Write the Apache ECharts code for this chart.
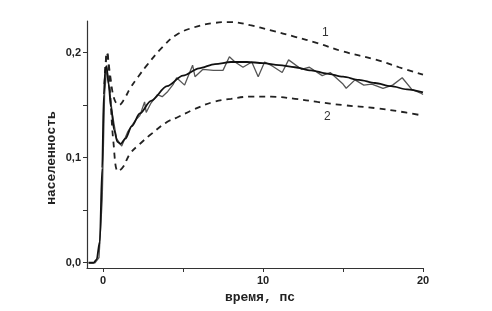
<!DOCTYPE html>
<html>
<head>
<meta charset="utf-8">
<script src="https://cdn.jsdelivr.net/npm/echarts@6/dist/echarts.min.js"></script>
<style>html,body{margin:0;padding:0;background:#fff}#c{width:492px;height:311px}</style>
</head>
<body>
<div id="c"></div>
<script>
var xTicks = [0, 5, 10, 15, 20];
var xLabels = [0, 10, 20];
var yTicks = [0, 0.05, 0.1, 0.15, 0.2];
var yLabels = [0, 0.1, 0.2];
var xTitle = 'время, пс';
var yTitle = 'населенность';

var fitT = [-0.9, -0.6, -0.4, -0.2, -0.05, 0.05, 0.15, 0.22, 0.35, 0.5, 0.7, 0.9, 1.1, 1.4, 1.8, 2.3, 3, 4, 5, 6, 7, 8, 9, 10, 11, 12, 13, 14, 15, 16, 17, 18, 19, 20];
var fitY = [0, 0, 0.003, 0.02, 0.09, 0.16, 0.185, 0.187, 0.17, 0.148, 0.126, 0.115, 0.113, 0.118, 0.13, 0.142, 0.154, 0.168, 0.178, 0.185, 0.189, 0.191, 0.191, 0.190, 0.188, 0.186, 0.183, 0.180, 0.177, 0.174, 0.171, 0.168, 0.165, 0.162];

var noisyT = [-0.9, -0.5, -0.25, -0.05, 0.1, 0.23, 0.4, 0.6, 0.85, 1.17, 1.56, 2.0, 2.3, 2.6, 2.7, 3.0, 3.4, 3.7, 4.05, 4.4, 4.6, 5.1, 5.6, 5.75, 6.25, 6.9, 7.5, 7.9, 8.25, 8.75, 9.3, 9.7, 10.1, 10.6, 11.2, 11.6, 12.4, 12.9, 13.7, 14.2, 15.0, 15.2, 15.75, 16.3, 16.8, 17.5, 18.1, 18.7, 19.3, 19.9, 20];
var noisyY = [0, 0, 0.005, 0.06, 0.16, 0.186, 0.165, 0.14, 0.118, 0.111, 0.125, 0.135, 0.14, 0.153, 0.143, 0.152, 0.160, 0.158, 0.163, 0.170, 0.176, 0.169, 0.188, 0.177, 0.184, 0.183, 0.183, 0.196, 0.191, 0.186, 0.191, 0.177, 0.191, 0.187, 0.181, 0.193, 0.184, 0.186, 0.178, 0.181, 0.170, 0.166, 0.174, 0.169, 0.170, 0.166, 0.169, 0.176, 0.165, 0.161, 0.160];

var up1T = [0.1, 0.25, 0.45, 0.7, 1.0, 1.3, 1.7, 2.2, 2.75, 3.7, 4.6, 5.7, 6.9, 8, 9.2, 10.5, 12, 13.4, 15, 17.1, 18.5, 20];
var up1Y = [0.17, 0.2, 0.178, 0.156, 0.15, 0.155, 0.166, 0.177, 0.188, 0.205, 0.217, 0.224, 0.228, 0.229, 0.226, 0.221, 0.215, 0.209, 0.201, 0.193, 0.186, 0.179];

var low2T = [0.1, 0.25, 0.45, 0.65, 0.94, 1.25, 1.7, 2.3, 2.9, 4.0, 4.6, 5.7, 6.9, 8, 9.2, 10.5, 12, 13.4, 15, 17.1, 18.5, 20];
var low2Y = [0.17, 0.2, 0.16, 0.115, 0.087, 0.091, 0.104, 0.113, 0.121, 0.134, 0.138, 0.146, 0.153, 0.156, 0.158, 0.158, 0.156, 0.153, 0.150, 0.147, 0.144, 0.140];

function pairs(t, y) { return t.map(function (v, i) { return [v, y[i]]; }); }

var chart = echarts.init(document.getElementById('c'), null, { renderer: 'canvas' });
var axisFont = { fontFamily: 'Liberation Sans, Arial, sans-serif', fontWeight: 'bold', fontSize: 11, color: '#222' };
var titleStyle = { fontFamily: '"Liberation Mono", "DejaVu Sans Mono", monospace', fontWeight: 'bold', fontSize: 13, fill: '#222', textAlign: 'center', textVerticalAlign: 'middle' };

chart.setOption({
  animation: false,
  backgroundColor: '#fff',
  grid: { left: 87, right: 69, top: 21, bottom: 43, containLabel: false },
  xAxis: {
    type: 'value', min: -1, max: 20,
    axisLine: { show: true, onZero: false, lineStyle: { color: '#333', width: 1.2 } },
    axisTick: { show: true, inside: false, length: 4, customValues: xTicks, lineStyle: { color: '#333' } },
    axisLabel: Object.assign({ customValues: xLabels, margin: 7, formatter: function (v) { return String(v); } }, axisFont),
    splitLine: { show: false }
  },
  yAxis: {
    type: 'value', min: -0.005, max: 0.23,
    axisLine: { show: true, onZero: false, lineStyle: { color: '#333', width: 1.2 } },
    axisTick: { show: true, inside: false, length: 4, customValues: yTicks, lineStyle: { color: '#333' } },
    axisLabel: Object.assign({ customValues: yLabels, margin: 6, formatter: function (v) { return v.toFixed(1).replace('.', ','); } }, axisFont),
    splitLine: { show: false }
  },
  series: [
    { type: 'line', data: pairs(up1T, up1Y), smooth: 0.4, showSymbol: false, lineStyle: { color: '#222', width: 1.8, type: [6, 5] } },
    { type: 'line', data: pairs(low2T, low2Y), smooth: 0.4, showSymbol: false, lineStyle: { color: '#222', width: 1.8, type: [6, 5] } },
    { type: 'line', data: pairs(noisyT, noisyY), smooth: false, showSymbol: false, lineStyle: { color: '#555', width: 1.3 } },
    { type: 'line', data: pairs(fitT, fitY), smooth: 0.3, smoothMonotone: 'x', showSymbol: false, lineStyle: { color: '#111', width: 1.8 } }
  ],
  graphic: [
    { type: 'text', x: 260, y: 298, style: Object.assign({ text: xTitle }, titleStyle) },
    { type: 'text', x: 52, y: 158, rotation: Math.PI / 2, style: Object.assign({ text: yTitle }, titleStyle) },
    { type: 'text', left: 322, top: 27, style: { text: '1', fontFamily: 'Liberation Sans, Arial', fontSize: 12, fill: '#333' } },
    { type: 'text', left: 324, top: 111, style: { text: '2', fontFamily: 'Liberation Sans, Arial', fontSize: 12, fill: '#333' } }
  ]
});
</script>
</body>
</html>
